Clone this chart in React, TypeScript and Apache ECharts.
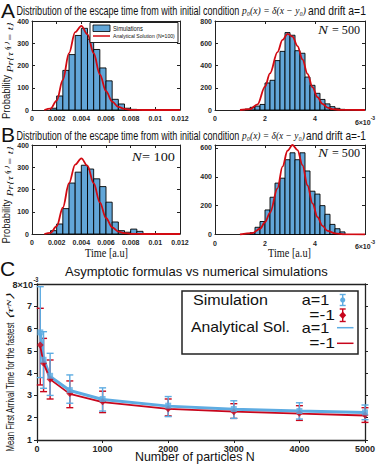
import React, { useEffect, useRef } from 'react';
import * as echarts from 'echarts';

// ---------------- Data ----------------
// bin widths of the histograms
const binWidthN100 = 0.0005;
const binWidthN500 = 0.0002;

// Panel A, drift a = 1, N = 100
const binsA100 = [0.0015, 0.002, 0.0025, 0.003, 0.0035, 0.004, 0.0045, 0.005, 0.0055, 0.006, 0.0065, 0.007, 0.0075, 0.008, 0.0085];
const countsA100 = [8, 63, 178, 249, 335, 367, 318, 272, 189, 131, 48, 27, 8, 3, 1];
const curveXA100 = [0.001, 0.0015, 0.002, 0.0025, 0.003, 0.0035, 0.004, 0.0045, 0.005, 0.0055, 0.006, 0.0065, 0.007, 0.0075, 0.008, 0.009, 0.012];
const curveYA100 = [0, 6, 42, 135, 255, 350, 378, 340, 255, 160, 85, 38, 14, 5, 1, 0, 0];

// Panel A, drift a = 1, N = 500
const binsA500 = [0.0012, 0.0014, 0.0016, 0.0018, 0.002, 0.0022, 0.0024, 0.0026, 0.0028, 0.003, 0.0032, 0.0034, 0.0036, 0.0038, 0.004, 0.0042, 0.0044, 0.0046, 0.0048, 0.005];
const countsA500 = [8, 24, 35, 50, 243, 267, 444, 527, 696, 672, 533, 510, 296, 222, 150, 95, 55, 30, 15, 6];
const curveXA500 = [0.001, 0.0014, 0.0017, 0.002, 0.0022, 0.0025, 0.0027, 0.0029, 0.0031, 0.0033, 0.0035, 0.0037, 0.0039, 0.0041, 0.0043, 0.0045, 0.0047, 0.005, 0.006];
const curveYA500 = [0, 8, 50, 210, 330, 520, 630, 685, 660, 575, 455, 325, 205, 115, 55, 22, 8, 1, 0];

// Panel B, drift a = -1, N = 100
const binsB100 = [0.0015, 0.002, 0.0025, 0.003, 0.0035, 0.004, 0.0045, 0.005, 0.0055, 0.006, 0.0065, 0.007, 0.0075, 0.008, 0.0085];
const countsB100 = [15, 45, 114, 229, 278, 309, 292, 248, 213, 143, 54, 15, 8, 22, 12];
const curveXB100 = [0.001, 0.0015, 0.002, 0.0025, 0.003, 0.0035, 0.004, 0.0045, 0.005, 0.0055, 0.006, 0.0065, 0.007, 0.0075, 0.008, 0.009, 0.012];
const curveYB100 = [0, 5, 35, 118, 228, 312, 340, 306, 228, 142, 72, 30, 11, 4, 1, 0, 0];

// Panel B, drift a = -1, N = 500
const binsB500 = [0.0014, 0.0016, 0.0018, 0.002, 0.0022, 0.0024, 0.0026, 0.0028, 0.003, 0.0032, 0.0034, 0.0036, 0.0038, 0.004, 0.0042, 0.0044, 0.0046, 0.0048, 0.005];
const countsB500 = [12, 50, 90, 170, 258, 356, 390, 518, 566, 518, 566, 440, 300, 280, 200, 140, 70, 40, 18];
const curveXB500 = [0.001, 0.0015, 0.0018, 0.002, 0.0022, 0.0025, 0.0027, 0.0029, 0.0031, 0.0033, 0.0035, 0.0037, 0.0039, 0.0041, 0.0043, 0.0045, 0.0048, 0.0052, 0.006];
const curveYB500 = [0, 10, 40, 85, 150, 320, 470, 580, 620, 585, 480, 340, 215, 120, 60, 25, 8, 1, 0];

// Panel C (values in units of 10^-3)
const particlesN = [50, 100, 200, 500, 1000, 2000, 3000, 4000, 5000];
const simA1 = [5.83, 4.6, 3.88, 3.24, 2.84, 2.54, 2.39, 2.3, 2.24];
const simA1Low = [3.8, 3.32, 3.0, 2.65, 2.3, 2.05, 1.97, 1.94, 1.91];
const simA1High = [7.88, 5.86, 4.89, 3.92, 3.34, 2.95, 2.76, 2.67, 2.57];
const simAm1 = [5.26, 4.44, 3.73, 3.09, 2.72, 2.4, 2.27, 2.2, 2.12];
const simAm1Low = [3.47, 3.17, 2.84, 2.45, 2.23, 2.08, 1.97, 1.88, 1.79];
const simAm1High = [6.91, 5.56, 4.59, 3.65, 3.19, 2.84, 2.63, 2.54, 2.45];
const anaA1 = [5.8, 4.65, 3.85, 3.22, 2.82, 2.52, 2.38, 2.3, 2.23];
const anaAm1 = [5.2, 4.45, 3.72, 3.07, 2.7, 2.4, 2.27, 2.18, 2.1];

// ---------------- Styles ----------------
const BAR = '#62a6d8';
const RED = '#d20a12';
const CBLUE = '#5eace2';
const CRED = '#c8061c';
const AX = '#222';
const SANS = "'Liberation Sans', Arial, sans-serif";
const NARROW = "'Liberation Sans Narrow', 'Liberation Sans', Arial, sans-serif";
const SERIF = "'Liberation Serif', 'Times New Roman', serif";

let measureCtx: CanvasRenderingContext2D | null = null;
function fit(text: string, font: string, target: number): number {
  if (!measureCtx) measureCtx = document.createElement('canvas').getContext('2d');
  if (!measureCtx) return 1;
  measureCtx.font = font;
  const w = measureCtx.measureText(text).width;
  return w > 0 ? target / w : 1;
}

function txt(text: string, x: number, y: number, font: string, target: number | null, opts: any = {}) {
  return {
    type: 'text',
    x,
    y,
    rotation: opts.rotation || 0,
    scaleX: target ? fit(text, font, target) : 1,
    z: 100,
    style: {
      text,
      font,
      fill: opts.fill || '#111',
      textAlign: opts.align || 'left',
      textVerticalAlign: 'middle',
    },
  };
}

const tickLabelStyle = { fontFamily: SANS, fontWeight: 'bold', fontSize: 7, color: '#262626' };
const supRich = {
  b: { fontFamily: SANS, fontWeight: 'bold', fontSize: 7, color: '#262626', lineHeight: 14 },
  s: { fontFamily: SANS, fontWeight: 'bold', fontSize: 5, color: '#262626', verticalAlign: 'top', lineHeight: 6 },
};

function xAxes(grid: number, min: number, max: number, interval: number, formatter: any, margin = 5) {
  return [
    {
      type: 'value', gridIndex: grid, min, max, interval, position: 'bottom',
      axisLine: { show: true, onZero: false, lineStyle: { color: AX, width: 1 } },
      axisTick: { show: true, inside: true, length: 3, lineStyle: { color: AX } },
      axisLabel: { ...tickLabelStyle, margin, formatter, rich: supRich },
      splitLine: { show: false },
    },
    {
      type: 'value', gridIndex: grid, min, max, interval, position: 'top',
      axisLine: { show: true, onZero: false, lineStyle: { color: AX, width: 1 } },
      axisTick: { show: true, inside: true, length: 3, lineStyle: { color: AX } },
      axisLabel: { show: false },
      splitLine: { show: false },
    },
  ];
}

function yAxes(grid: number, min: number, max: number, interval: number) {
  const fmt = (v: number) => (Math.abs(v % interval) < 1e-9 ? String(v) : '');
  return [
    {
      type: 'value', gridIndex: grid, min, max, interval, position: 'left',
      axisLine: { show: true, onZero: false, lineStyle: { color: AX, width: 1 } },
      axisTick: { show: true, inside: true, length: 3, lineStyle: { color: AX } },
      axisLabel: { ...tickLabelStyle, margin: 3, formatter: fmt },
      splitLine: { show: false },
    },
    {
      type: 'value', gridIndex: grid, min, max, interval, position: 'right',
      axisLine: { show: true, onZero: false, lineStyle: { color: AX, width: 1 } },
      axisTick: { show: true, inside: true, length: 3, lineStyle: { color: AX } },
      axisLabel: { show: false },
      splitLine: { show: false },
    },
  ];
}

function histSeries(axisIdx: number, bins: number[], counts: number[], width: number) {
  return {
    type: 'custom',
    xAxisIndex: axisIdx,
    yAxisIndex: axisIdx,
    data: bins.map((b, i) => [b, b + width, counts[i]]),
    encode: { x: [0, 1], y: 2 },
    z: 2,
    renderItem: (_p: any, api: any) => {
      const p0 = api.coord([api.value(0), api.value(2)]);
      const p1 = api.coord([api.value(1), 0]);
      return {
        type: 'rect',
        shape: { x: p0[0], y: p0[1], width: p1[0] - p0[0], height: p1[1] - p0[1] },
        style: { fill: BAR, stroke: '#000', lineWidth: 0.9 },
      };
    },
  };
}

function curveSeries(axisIdx: number, xs: number[], ys: number[]) {
  return {
    type: 'line',
    xAxisIndex: axisIdx,
    yAxisIndex: axisIdx,
    data: xs.map((x, i) => [x, ys[i]]),
    smooth: 0.35,
    smoothMonotone: 'x',
    showSymbol: false,
    symbol: 'none',
    z: 3,
    lineStyle: { color: RED, width: 1.8 },
  };
}

function errorSeries(n: number[], lo: number[], hi: number[], color: string) {
  return {
    type: 'custom',
    xAxisIndex: 8,
    yAxisIndex: 8,
    data: n.map((v, i) => [v, lo[i], hi[i]]),
    encode: { x: 0, y: [1, 2] },
    z: 3,
    renderItem: (_p: any, api: any) => {
      const a = api.coord([api.value(0), api.value(2)]);
      const b = api.coord([api.value(0), api.value(1)]);
      const cap = 3.5;
      const st = { stroke: color, lineWidth: 1.4 };
      return {
        type: 'group',
        children: [
          { type: 'line', shape: { x1: a[0], y1: a[1], x2: b[0], y2: b[1] }, style: st },
          { type: 'line', shape: { x1: a[0] - cap, y1: a[1], x2: a[0] + cap, y2: a[1] }, style: st },
          { type: 'line', shape: { x1: b[0] - cap, y1: b[1], x2: b[0] + cap, y2: b[1] }, style: st },
        ],
      };
    },
  };
}

function buildOption(): any {
  const fmtSmall = (v: number) => (v === 0 ? '0' : String(parseFloat(v.toFixed(4))));
  const fmtMilli = (v: number) => {
    const k = Math.round(v * 1000);
    return k === 6 ? '{b|6×10}{s|-3}' : String(k);
  };
  const fmtC = (v: number) => String(v);
  // the top label (8 × 10^-3) is drawn separately, as in the reference
  const fmtCY = (v: number) => (v === 8 ? '' : String(v));

  const grids = [
    { left: 32, top: 21, width: 148, height: 89 },
    { left: 215, top: 21, width: 150, height: 89 },
    { left: 32, top: 145, width: 148, height: 89 },
    { left: 215, top: 145, width: 150, height: 89.5 },
    { left: 37, top: 284, width: 328, height: 156 },
  ];

  const cLabel = { fontFamily: SANS, fontWeight: 'bold', fontSize: 9, color: '#262626' };
  const cAxisLine = { show: true, onZero: false, lineStyle: { color: AX, width: 1.3 } };
  const cTick = { show: true, inside: false, length: 3, lineStyle: { color: AX, width: 1 } };

  const xAxis = [
    ...xAxes(0, 0, 0.012, 0.002, fmtSmall),
    ...xAxes(1, 0, 0.006, 0.002, fmtMilli),
    ...xAxes(2, 0, 0.012, 0.002, fmtSmall),
    ...xAxes(3, 0, 0.006, 0.002, fmtMilli),
    {
      type: 'value', gridIndex: 4, min: 0, max: 5000, interval: 1000, position: 'bottom',
      axisLine: cAxisLine, axisTick: cTick,
      axisLabel: { ...cLabel, margin: 4, formatter: fmtC }, splitLine: { show: false },
    },
    {
      type: 'value', gridIndex: 4, min: 0, max: 5000, interval: 1000, position: 'top',
      axisLine: cAxisLine, axisTick: { show: false }, axisLabel: { show: false }, splitLine: { show: false },
    },
  ];
  const yAxis = [
    ...yAxes(0, 0, 400, 100),
    ...yAxes(1, 0, 800, 200),
    ...yAxes(2, 0, 400, 100),
    ...yAxes(3, 0, 620, 200),
    {
      type: 'value', gridIndex: 4, min: 1, max: 8, interval: 1, position: 'left',
      axisLine: cAxisLine, axisTick: cTick,
      axisLabel: { ...cLabel, margin: 5, formatter: fmtCY }, splitLine: { show: false },
    },
    {
      type: 'value', gridIndex: 4, min: 1, max: 8, interval: 1, position: 'right',
      axisLine: cAxisLine, axisTick: cTick, axisLabel: { show: false }, splitLine: { show: false },
    },
  ];

  const series: any[] = [
    histSeries(0, binsA100, countsA100, binWidthN100),
    curveSeries(0, curveXA100, curveYA100),
    histSeries(2, binsA500, countsA500, binWidthN500),
    curveSeries(2, curveXA500, curveYA500),
    histSeries(4, binsB100, countsB100, binWidthN100),
    curveSeries(4, curveXB100, curveYB100),
    histSeries(6, binsB500, countsB500, binWidthN500),
    curveSeries(6, curveXB500, curveYB500),
    errorSeries(particlesN, simAm1Low, simAm1High, CRED),
    errorSeries(particlesN, simA1Low, simA1High, CBLUE),
    {
      type: 'line', xAxisIndex: 8, yAxisIndex: 8, z: 4,
      data: particlesN.map((n, i) => [n, anaA1[i]]),
      showSymbol: false, symbol: 'none',
      lineStyle: { color: CBLUE, width: 3 },
    },
    {
      type: 'line', xAxisIndex: 8, yAxisIndex: 8, z: 5,
      data: particlesN.map((n, i) => [n, anaAm1[i]]),
      showSymbol: false, symbol: 'none',
      lineStyle: { color: CRED, width: 1.8 },
    },
    {
      type: 'scatter', xAxisIndex: 8, yAxisIndex: 8, z: 6,
      data: particlesN.map((n, i) => [n, simAm1[i]]),
      symbol: 'diamond', symbolSize: 7,
      itemStyle: { color: CRED },
    },
    {
      type: 'scatter', xAxisIndex: 8, yAxisIndex: 8, z: 6,
      data: particlesN.map((n, i) => [n, simA1[i]]),
      symbol: 'rect', symbolSize: 6,
      itemStyle: { color: CBLUE },
    },
  ];

  const titleFont = `13px ${NARROW}`;
  const mathFont = `italic 11px ${SERIF}`;
  const big = `21px ${SANS}`;
  const elements: any[] = [
    // Panel letters and titles
    txt('A', 1, 10, big, null),
    txt('Distribution of the escape time from with initial condition', 16.5, 10.5, titleFont, 223),
    txt('p₀(x) = δ(x − y₀)', 242, 10.5, mathFont, 64),
    txt('and drift a=1', 308, 10.5, titleFont, 58),
    txt('B', 1, 134, big, null),
    txt('Distribution of the escape time from with initial condition', 16.5, 135, titleFont, 223),
    txt('p₀(x) = δ(x − y₀)', 242, 135, mathFont, 63),
    txt('and drift a=-1', 306, 135, titleFont, 60),
    txt('C', 0, 268.5, big, null),
    txt('Asymptotic formulas vs numerical simulations', 65, 272, `12px ${SANS}`, 263),

    // top tick label of panel C's y axis
    txt('8×10', 12.5, 285, `bold 9px ${SANS}`, 20.5, { fill: '#262626' }),
    txt('-3', 33.5, 279.5, `bold 7px ${SANS}`, 5, { fill: '#262626' }),

    // y-axis titles
    txt('Probability', 6, 97, `11px ${NARROW}`, 44, { rotation: Math.PI / 2, align: 'center' }),
    txt('Pr{τ⁽¹⁾ = t}', 10, 47.5, `italic 9px ${SERIF}`, 51, { rotation: Math.PI / 2, align: 'center' }),
    txt('Probability', 6, 221.5, `11px ${NARROW}`, 44, { rotation: Math.PI / 2, align: 'center' }),
    txt('Pr{τ⁽¹⁾ = t}', 10, 171.5, `italic 9px ${SERIF}`, 51, { rotation: Math.PI / 2, align: 'center' }),
    txt('Mean First Arrival Time for the fastest', 10, 387, `11px ${NARROW}`, 130, { rotation: Math.PI / 2, align: 'center' }),
    txt('⟨τ̄ᴺ⟩', 10, 306.5, `italic 9px ${SERIF}`, 29, { rotation: Math.PI / 2, align: 'center' }),

    // x-axis titles
    txt('Time [a.u]', 106.5, 252.5, `12px ${SERIF}`, 43, { align: 'center' }),
    txt('Time [a.u]', 289.5, 252.5, `12px ${SERIF}`, 43, { align: 'center' }),
    txt('Number of particles N', 135, 457, `12px ${SANS}`, 120),

    // N annotations
    txt('N', 318, 30, `italic 13px ${SERIF}`, 10),
    txt('= 500', 332, 30, `13px ${SERIF}`, 28),
    txt('N', 318, 153.3, `italic 13px ${SERIF}`, 10),
    txt('= 500', 332, 153.3, `13px ${SERIF}`, 28),
    txt('N', 131.7, 156.7, `italic 13px ${SERIF}`, 10),
    txt('= 100', 142, 156.7, `13px ${SERIF}`, 33),

    // Legend of panel A
    { type: 'rect', z: 99, shape: { x: 90, y: 22.5, width: 88, height: 20 }, style: { fill: '#fff', stroke: AX, lineWidth: 1 } },
    { type: 'rect', z: 100, shape: { x: 93, y: 25, width: 17, height: 6.5 }, style: { fill: BAR, stroke: '#000', lineWidth: 0.8 } },
    { type: 'line', z: 100, shape: { x1: 93, y1: 36, x2: 110, y2: 36 }, style: { stroke: RED, lineWidth: 1.5 } },
    txt('Simulations', 113, 28.3, `7px ${SANS}`, 30),
    txt('Analytical Solution (N=100)', 113, 36, `5px ${SANS}`, 62),

    // Legend of panel C
    { type: 'rect', z: 99, shape: { x: 182, y: 291, width: 176, height: 63 }, style: { fill: '#fff', stroke: AX, lineWidth: 1.5 } },
    txt('Simulation', 193, 300, `14px ${SANS}`, 75),
    txt('a=1', 301.7, 300, `14px ${SANS}`, 27.6),
    txt('=-1', 309.3, 315, `14px ${SANS}`, 25.7),
    txt('Analytical Sol.', 191, 327.7, `14px ${SANS}`, 99),
    txt('a=1', 301.7, 327.7, `14px ${SANS}`, 27.6),
    txt('=-1', 309.3, 343.3, `14px ${SANS}`, 25.7),
    { type: 'line', z: 100, shape: { x1: 342.7, y1: 294.5, x2: 342.7, y2: 305.5 }, style: { stroke: CBLUE, lineWidth: 1.4 } },
    { type: 'line', z: 100, shape: { x1: 339.7, y1: 294.5, x2: 345.7, y2: 294.5 }, style: { stroke: CBLUE, lineWidth: 1.4 } },
    { type: 'line', z: 100, shape: { x1: 339.7, y1: 305.5, x2: 345.7, y2: 305.5 }, style: { stroke: CBLUE, lineWidth: 1.4 } },
    { type: 'circle', z: 101, shape: { cx: 342.7, cy: 300, r: 2.6 }, style: { fill: CBLUE } },
    { type: 'line', z: 100, shape: { x1: 342.7, y1: 309, x2: 342.7, y2: 321.5 }, style: { stroke: CRED, lineWidth: 1.4 } },
    { type: 'line', z: 100, shape: { x1: 339.7, y1: 309, x2: 345.7, y2: 309 }, style: { stroke: CRED, lineWidth: 1.4 } },
    { type: 'line', z: 100, shape: { x1: 339.7, y1: 321.5, x2: 345.7, y2: 321.5 }, style: { stroke: CRED, lineWidth: 1.4 } },
    { type: 'polygon', z: 101, shape: { points: [[342.7, 311.5], [346.2, 315.2], [342.7, 318.9], [339.2, 315.2]] }, style: { fill: CRED } },
    { type: 'line', z: 100, shape: { x1: 337, y1: 327.7, x2: 353.5, y2: 327.7 }, style: { stroke: CBLUE, lineWidth: 1.5 } },
    { type: 'line', z: 100, shape: { x1: 337, y1: 343.3, x2: 353.5, y2: 343.3 }, style: { stroke: CRED, lineWidth: 1.5 } },
  ];

  return {
    animation: false,
    backgroundColor: '#fff',
    grid: grids,
    xAxis,
    yAxis,
    series,
    graphic: { elements },
  };
}

export default function App() {
  const ref = useRef<HTMLDivElement>(null);
  useEffect(() => {
    if (!ref.current) return;
    const chart = echarts.init(ref.current, null, { renderer: 'svg' });
    chart.setOption(buildOption());
    return () => {
      chart.dispose();
    };
  }, []);
  return (
    <div
      ref={ref}
      style={{ position: 'fixed', left: 0, top: 0, width: 380, height: 464, background: '#fff' }}
    />
  );
}
